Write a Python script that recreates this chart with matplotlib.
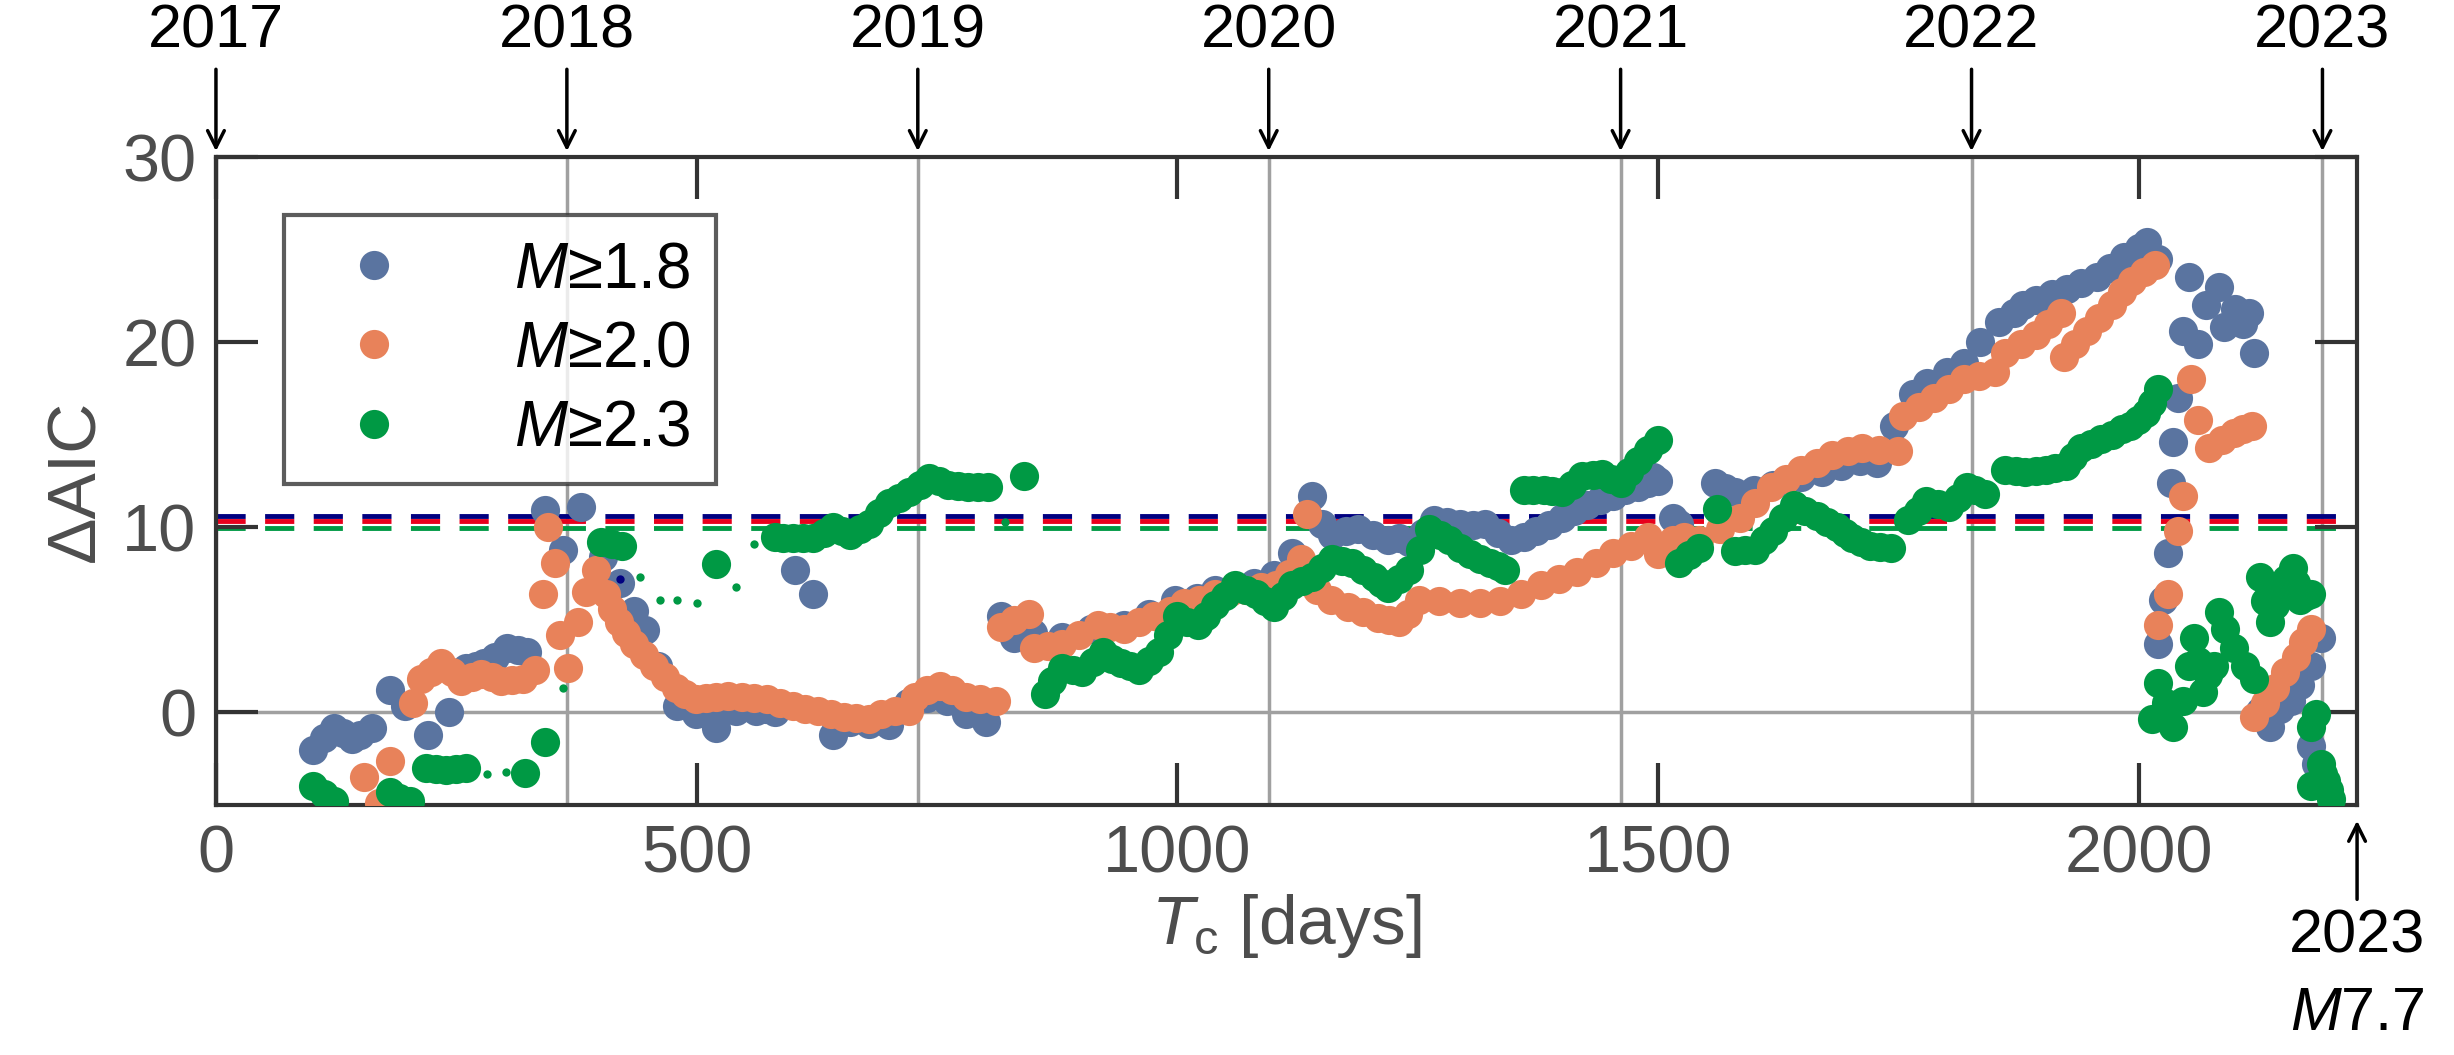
import matplotlib
matplotlib.use('Agg')
import matplotlib.pyplot as plt

plt.rcParams['font.family'] = 'Liberation Sans'
plt.rcParams['mathtext.fontset'] = 'custom'
plt.rcParams['mathtext.rm'] = 'Liberation Sans'
plt.rcParams['mathtext.it'] = 'Liberation Sans:italic'

# days since 2017-01-01, Delta AIC
blue_x = [101, 112, 123, 132, 141, 150, 162, 181, 197, 221, 242, 260, 270, 279, 290, 303, 314, 324, 342, 361,
          380, 403, 420, 435, 446, 460, 480, 499, 510, 520, 530, 541, 552, 562, 572, 581, 602, 621, 642, 660,
          679, 690, 700, 720, 740, 760, 780, 801, 817, 830, 850, 880, 910, 944, 970, 997, 1020, 1039, 1060,
          1080, 1100, 1119, 1140, 1150, 1161, 1175, 1188, 1203, 1219, 1230, 1241, 1255, 1267, 1280, 1294,
          1307, 1320, 1333, 1347, 1360, 1373, 1387, 1400, 1413, 1426, 1440, 1453, 1466, 1479, 1490, 1500,
          1495, 1516, 1522, 1559, 1570, 1580, 1600, 1620, 1649, 1670, 1690, 1710, 1728, 1745, 1765, 1780,
          1800, 1818, 1835, 1855, 1870, 1880, 1893, 1910, 1925, 1940, 1956, 1970, 1985, 2000, 2009, 2020,
          2052, 2046, 2062, 2070, 2083, 2089, 2100, 2108, 2115, 2120, 2041, 2036, 2033, 2030, 2025, 2020,
          2126, 2136, 2147, 2158, 2168, 2179, 2189, 2179, 2184]
blue_y = [-2.05, -1.4, -0.84, -1.1, -1.45, -1.2, -0.84, 1.2, 0.36, -1.2, 0.0, 2.4, 2.5, 2.65, 3.0, 3.5, 3.4,
          3.25, 10.96, 8.8, 11.1, 8.4, 7.0, 5.5, 4.46, 2.5, 0.36, -0.1, 0.3, -0.84, 0.2, 0.1, 0.3, 0.1, 0.2,
          0.0, 7.7, 6.4, -1.2, -0.5, -0.6, -0.4, -0.7, 0.5, 0.8, 0.6, -0.1, -0.5, 5.2, 4.0, 4.3, 4.1, 4.5,
          4.7, 5.3, 6.1, 6.2, 6.6, 6.8, 7.0, 7.4, 8.6, 11.7, 10.2, 9.6, 9.8, 9.9, 9.6, 9.3, 9.4, 9.2, 9.7,
          10.4, 10.3, 10.2, 10.1, 10.2, 9.7, 9.3, 9.5, 9.8, 10.1, 10.5, 10.9, 11.2, 11.5, 11.7, 12.0, 12.2,
          12.4, 12.5, 12.7, 10.5, 10.2, 12.4, 12.1, 11.9, 12.0, 12.3, 12.7, 13.0, 13.3, 13.6, 13.5, 15.5,
          17.2, 17.8, 18.4, 18.9, 20.0, 21.1, 21.6, 22.0, 22.3, 22.6, 22.9, 23.2, 23.5, 24.0, 24.6, 25.1,
          25.4, 24.5, 23.5, 20.6, 19.9, 22.0, 23.0, 20.8, 21.8, 21.0, 21.6, 19.4, 17.0, 14.6, 12.4, 8.6,
          6.1, 3.7, 0.1, -0.8, 0.2, 0.6, 1.5, 2.5, 4.0, -1.8, -2.8]

orange_x = [154, 170, 181, 205, 213, 224, 234, 245, 255, 266, 276, 287, 297, 308, 319, 332, 340, 345, 353, 358,
            366, 377, 385, 395, 406, 412, 419, 427, 435, 445, 456, 467, 478, 488, 499, 510, 520, 533, 547, 560,
            573, 587, 600, 613, 626, 640, 653, 666, 679, 692, 706, 721, 727, 740, 753, 766, 780, 795, 811, 817,
            830, 846, 851, 865, 880, 898, 917, 930, 944, 960, 976, 992, 1007, 1023, 1039, 1055, 1071, 1087,
            1103, 1116, 1129, 1135, 1145, 1160, 1177, 1193, 1209, 1220, 1230, 1240, 1251, 1272, 1294, 1315,
            1336, 1357, 1378, 1397, 1416, 1435, 1453, 1472, 1490, 1500, 1515, 1527, 1543, 1564, 1585, 1601,
            1617, 1633, 1649, 1665, 1681, 1697, 1712, 1730, 1750, 1755, 1771, 1787, 1803, 1818, 1834, 1850,
            1861, 1877, 1893, 1906, 1919, 1922, 1934, 1946, 1959, 1972, 1983, 1993, 2005, 2017, 2054, 2062,
            2073, 2086, 2099, 2108, 2118, 2046, 2041, 2030, 2020, 2120, 2131, 2142, 2152, 2163, 2171, 2179]
orange_y = [-3.5, -4.9, -2.65, 0.5, 1.8, 2.2, 2.65, 2.2, 1.7, 1.9, 2.05, 1.9, 1.7, 1.75, 1.8, 2.3, 6.4, 10.0,
            8.1, 4.2, 2.4, 4.9, 6.5, 7.7, 6.4, 5.6, 4.9, 4.3, 3.7, 3.1, 2.5, 1.9, 1.3, 1.0, 0.7, 0.8, 0.85,
            0.9, 0.85, 0.8, 0.7, 0.5, 0.36, 0.2, 0.1, -0.1, -0.25, -0.3, -0.35, -0.1, 0.1, 0.1, 0.85, 1.2,
            1.45, 1.2, 0.85, 0.7, 0.6, 4.6, 5.0, 5.3, 3.5, 3.6, 3.7, 4.2, 4.7, 4.6, 4.5, 4.9, 5.2, 5.5, 5.9,
            6.1, 6.4, 6.5, 6.6, 6.8, 6.9, 7.5, 8.3, 10.7, 6.6, 6.1, 5.7, 5.4, 5.1, 5.0, 4.9, 5.3, 6.1, 6.0,
            5.9, 5.9, 6.0, 6.4, 6.9, 7.2, 7.6, 8.1, 8.6, 9.0, 9.5, 8.55, 9.3, 9.5, 9.3, 9.9, 10.5, 11.3, 12.2,
            12.6, 13.1, 13.5, 13.9, 14.1, 14.3, 14.2, 14.1, 16.0, 16.5, 17.0, 17.5, 18.0, 18.2, 18.4, 19.4,
            19.9, 20.4, 21.0, 21.6, 19.2, 19.9, 20.6, 21.3, 22.0, 22.7, 23.3, 23.8, 24.2, 18.0, 15.8, 14.3,
            14.7, 15.1, 15.3, 15.5, 11.7, 9.8, 6.4, 4.7, -0.25, 0.5, 1.3, 2.2, 3.0, 3.8, 4.5]

green_x = [101, 112, 123, 181, 190, 202, 218, 229, 239, 250, 260, 321, 342, 401, 412, 422, 520, 581, 590, 600,
           611, 621, 632, 642, 651, 660, 670, 679, 690, 700, 710, 721, 732, 742, 752, 761, 772, 782, 793, 803,
           840, 862, 870, 880, 891, 901, 912, 923, 932, 941, 951, 960, 970, 981, 990, 1000, 1010, 1021, 1030,
           1039, 1050, 1060, 1071, 1082, 1091, 1100, 1110, 1119, 1130, 1140, 1150, 1161, 1171, 1182, 1193,
           1204, 1212, 1219, 1230, 1241, 1252, 1262, 1273, 1283, 1294, 1304, 1315, 1325, 1333, 1341, 1360,
           1370, 1381, 1390, 1400, 1410, 1421, 1432, 1442, 1451, 1461, 1470, 1479, 1490, 1500, 1522, 1532,
           1543, 1561, 1580, 1590, 1601, 1610, 1620, 1630, 1641, 1653, 1665, 1676, 1686, 1694, 1702, 1711,
           1720, 1731, 1742, 1760, 1770, 1779, 1791, 1803, 1812, 1821, 1830, 1840, 1861, 1872, 1882, 1893,
           1903, 1913, 1924, 1932, 1940, 1950, 1961, 1972, 1983, 1991, 1999, 2007, 2014, 2020, 2014, 2020,
           2028, 2036, 2046, 2052, 2057, 2062, 2067, 2072, 2078, 2083, 2090, 2099, 2110, 2120, 2126, 2131,
           2136, 2142, 2147, 2153, 2160, 2164, 2168, 2174, 2179, 2184, 2179, 2189, 2192, 2195, 2198, 2200, 2179]
green_y = [-4.0, -4.4, -4.8, -4.3, -4.6, -4.8, -3.0, -3.05, -3.1, -3.05, -3.0, -3.25, -1.6, 9.2, 9.1, 9.0,
           8.0, 9.5, 9.45, 9.4, 9.4, 9.4, 9.7, 10.0, 9.8, 9.6, 9.9, 10.2, 10.8, 11.3, 11.6, 11.9, 12.3, 12.65,
           12.5, 12.3, 12.25, 12.2, 12.2, 12.2, 12.8, 1.0, 1.7, 2.4, 2.3, 2.2, 2.7, 3.25, 2.9, 2.65, 2.5, 2.3,
           2.8, 3.25, 4.2, 5.2, 4.9, 4.7, 5.2, 5.8, 6.3, 6.9, 6.6, 6.4, 6.0, 5.7, 6.3, 6.9, 7.1, 7.3, 7.8, 8.3,
           8.2, 8.1, 7.7, 7.3, 7.0, 6.7, 7.2, 7.7, 8.8, 9.9, 9.6, 9.3, 8.9, 8.55, 8.3, 8.1, 7.9, 7.7, 12.0,
           12.0, 12.0, 11.95, 11.9, 12.3, 12.8, 12.85, 12.9, 12.6, 12.4, 13.0, 13.6, 14.2, 14.7, 8.1, 8.5,
           8.9, 11.0, 8.7, 8.75, 8.8, 9.3, 9.8, 10.5, 11.2, 10.9, 10.6, 10.3, 10.0, 9.7, 9.4, 9.2, 9.0, 8.95,
           8.9, 10.4, 10.9, 11.4, 11.25, 11.1, 11.6, 12.2, 12.0, 11.8, 13.1, 13.05, 13.0, 13.05, 13.1, 13.2,
           13.3, 13.8, 14.3, 14.5, 14.8, 15.0, 15.3, 15.5, 15.8, 16.2, 16.7, 17.5, -0.35, 1.6, 0.5, -0.8, 0.6,
           2.5, 4.0, 2.8, 1.1, 2.0, 2.5, 5.4, 4.5, 3.5, 2.5, 1.8, 7.3, 6.0, 4.9, 5.8, 6.6, 7.2, 7.8, 7.0, 6.1,
           6.3, 6.4, -0.1, -0.8, -2.8, -3.3, -3.7, -4.2, -4.7, -4.0]

# small markers
small_blue_x = [420]
small_blue_y = [7.2]
small_green_x = [282, 302, 361, 441, 462, 480, 500, 541, 560, 821]
small_green_y = [-3.3, -3.2, 1.3, 7.3, 6.1, 6.1, 5.9, 6.8, 9.1, 10.3]

thresholds = [10.6, 10.36, 9.95]
threshold_colors = ['#000080', '#e8001c', '#009944']

year_labels = ['2017', '2018', '2019', '2020', '2021', '2022', '2023']
year_days = [0, 365, 730, 1095, 1461, 1826, 2191]
eq_day = 2227

c_blue = '#5a74a0'
c_orange = '#e8825a'
c_green = '#009944'
gray = '#4d4d4d'

fig = plt.figure(figsize=(24.54, 10.55), dpi=100)
ax = fig.add_axes([0.088, 0.237, 0.8725, 0.614])

for d in year_days:
    ax.axvline(d, color='#a0a0a0', lw=2.5, zorder=0)
ax.axhline(0, color='#a0a0a0', lw=2.5, zorder=0)

for yv, c in zip(thresholds, threshold_colors):
    ax.axhline(yv, color=c, lw=3.5, ls=(0, (6, 4)), zorder=1)

ms = 21
ax.plot(blue_x, blue_y, 'o', color=c_blue, ms=ms, mec='none', label=r'$M$≥1.8', zorder=2)
ax.plot(orange_x, orange_y, 'o', color=c_orange, ms=ms, mec='none', label=r'$M$≥2.0', zorder=3)
ax.plot(green_x, green_y, 'o', color=c_green, ms=ms, mec='none', label=r'$M$≥2.3', zorder=4)
ax.plot(small_blue_x, small_blue_y, 'o', color='#000080', ms=6, mec='none', zorder=4)
ax.plot(small_green_x, small_green_y, 'o', color=c_green, ms=6, mec='none', zorder=4)

ax.set_xlim(0, eq_day)
ax.set_ylim(-5, 30)
ax.set_xticks([0, 500, 1000, 1500, 2000])
ax.set_yticks([0, 10, 20, 30])
ax.tick_params(direction='in', length=30, width=3, color='#333333', labelsize=48, labelcolor=gray,
               top=True, right=True, pad=14)
for s in ax.spines.values():
    s.set_linewidth(3)
    s.set_color('#333333')

ax.set_xlabel(r'$T_{\rm c}$ [days]', fontsize=50, color=gray, labelpad=4)
ax.set_ylabel('ΔAIC', fontsize=50, color=gray, labelpad=10)

leg = ax.legend(loc='upper left', bbox_to_anchor=(0.017, 0.96), fontsize=46, frameon=True, fancybox=False,
                handletextpad=1.2, borderpad=0.4, labelspacing=0.3, markerscale=1.0)
leg.get_frame().set_edgecolor('#333333')
leg.get_frame().set_linewidth(3)

trans = ax.get_xaxis_transform()
for lab, d in zip(year_labels, year_days):
    ax.text(d, 1.15, lab, transform=trans, ha='center', va='bottom', fontsize=44, color='black')
    ax.annotate('', xy=(d, 1.005), xytext=(d, 1.14), xycoords=trans, textcoords=trans,
                arrowprops=dict(arrowstyle='->', color='black', lw=2.5, mutation_scale=30))

ax.annotate('', xy=(eq_day, -0.02), xytext=(eq_day, -0.15), xycoords=trans, textcoords=trans,
            arrowprops=dict(arrowstyle='->', color='black', lw=2.5, mutation_scale=30))
ax.text(eq_day, -0.16, '2023', transform=trans, ha='center', va='top', fontsize=44, color='black')
ax.text(eq_day, -0.28, r'$M$7.7', transform=trans, ha='center', va='top', fontsize=44, color='black')

fig.savefig('out.png', dpi=100)
